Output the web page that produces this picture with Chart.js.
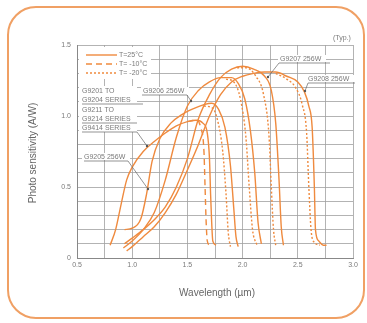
<!DOCTYPE html>
<html>
<head>
<meta charset="utf-8">
<title>Photo sensitivity</title>
<script src="https://cdn.jsdelivr.net/npm/chart.js"></script>
<style>
  body { margin: 0; background: #fff; }
  #c { display: block; }
</style>
</head>
<body>
<canvas id="c" width="367" height="323"></canvas>
<script>
// wavelength (um) / photo sensitivity (A/W)
var stdX   = [0.80, 0.85, 0.90, 0.95, 1.00, 1.10, 1.20, 1.30, 1.40, 1.50, 1.58, 1.64, 1.68, 1.70, 1.71, 1.72, 1.73, 1.76];
var stdY   = [0.09, 0.20, 0.38, 0.55, 0.64, 0.75, 0.82, 0.88, 0.93, 0.96, 0.97, 0.95, 0.88, 0.70, 0.45, 0.25, 0.12, 0.09];
var stdColdX = [1.50, 1.58, 1.62, 1.65, 1.66, 1.67, 1.68, 1.70];
var stdColdY = [0.96, 0.97, 0.92, 0.75, 0.50, 0.25, 0.12, 0.09];

var g9205X = [0.93, 1.00, 1.08, 1.13, 1.18, 1.25, 1.35, 1.45, 1.55, 1.65, 1.72, 1.78, 1.84, 1.89, 1.92, 1.94, 1.96];
var g9205Y = [0.20, 0.21, 0.28, 0.45, 0.68, 0.84, 0.95, 1.01, 1.05, 1.08, 1.09, 1.05, 0.92, 0.65, 0.35, 0.15, 0.08];
var g9205ColdX = [1.65, 1.72, 1.77, 1.82, 1.85, 1.87, 1.89];
var g9205ColdY = [1.07, 1.06, 0.98, 0.75, 0.45, 0.18, 0.08];

var g9206X = [0.92, 1.00, 1.10, 1.20, 1.30, 1.40, 1.50, 1.60, 1.70, 1.80, 1.90, 1.96, 2.02, 2.07, 2.11, 2.14, 2.17];
var g9206Y = [0.07, 0.12, 0.20, 0.32, 0.55, 0.85, 1.07, 1.18, 1.24, 1.27, 1.27, 1.23, 1.12, 0.90, 0.60, 0.25, 0.10];
var g9206ColdX = [1.85, 1.92, 1.98, 2.03, 2.06, 2.09, 2.13];
var g9206ColdY = [1.26, 1.24, 1.12, 0.85, 0.50, 0.20, 0.09];

var g9207X = [0.93, 1.00, 1.10, 1.20, 1.30, 1.40, 1.50, 1.60, 1.70, 1.80, 1.90, 2.00, 2.10, 2.20, 2.26, 2.30, 2.33, 2.35, 2.37];
var g9207Y = [0.10, 0.14, 0.20, 0.27, 0.36, 0.50, 0.70, 0.98, 1.15, 1.27, 1.33, 1.35, 1.33, 1.28, 1.18, 0.95, 0.55, 0.22, 0.09];
var g9207ColdX = [1.95, 2.03, 2.12, 2.19, 2.24, 2.26, 2.28, 2.30];
var g9207ColdY = [1.34, 1.34, 1.28, 1.15, 0.85, 0.50, 0.20, 0.09];

var g9208X = [0.95, 1.00, 1.10, 1.20, 1.30, 1.40, 1.50, 1.60, 1.70, 1.80, 1.90, 2.00, 2.10, 2.20, 2.30, 2.40, 2.50, 2.56, 2.60, 2.63, 2.65, 2.66, 2.69, 2.73, 2.76];
var g9208Y = [0.05, 0.08, 0.15, 0.22, 0.32, 0.45, 0.62, 0.80, 1.00, 1.15, 1.24, 1.28, 1.30, 1.31, 1.31, 1.28, 1.24, 1.17, 1.07, 0.92, 0.50, 0.20, 0.12, 0.09, 0.09];
var g9208ColdX = [2.30, 2.40, 2.48, 2.54, 2.58, 2.60, 2.62, 2.65, 2.70];
var g9208ColdY = [1.30, 1.26, 1.20, 1.08, 0.88, 0.50, 0.20, 0.11, 0.09];

var xTickLabels = ['0.5', '1.0', '1.5', '2.0', '2.5', '3.0'];
var yTickLabels = ['0', '0.5', '1.0', '1.5'];

var orange = '#ef8a3e';
var gray = '#7a7a7a';

function pts(xs, ys) {
  return xs.map(function (x, i) { return { x: x, y: ys[i] }; });
}

function ds(xs, ys, dash) {
  return {
    data: pts(xs, ys),
    borderColor: orange,
    borderWidth: 1.4,
    borderDash: dash,
    pointRadius: 0,
    fill: false,
    cubicInterpolationMode: 'monotone'
  };
}

var solid = [], dashed = [6, 4], dotted = [2, 2];

function txt(ctx, s, x, y) {
  ctx.fillText(s, x, y);
}

var decor = {
  id: 'decor',
  beforeDraw: function (chart) {
    var ctx = chart.ctx;
    ctx.save();
    ctx.fillStyle = '#fff';
    ctx.fillRect(0, 0, chart.width, chart.height);
    ctx.strokeStyle = '#f0a064';
    ctx.lineWidth = 2;
    ctx.beginPath();
    ctx.roundRect(8, 7, 356, 311, 28);
    ctx.stroke();
    ctx.restore();
  },
  beforeDatasetsDraw: function (chart) {
    var ctx = chart.ctx;
    ctx.save();
    ctx.fillStyle = '#fff';
    ctx.fillRect(79, 47, 72, 32);
    ctx.fillRect(79, 86, 58, 46);
    ctx.fillRect(141, 87, 48, 8);
    ctx.fillRect(278, 55, 48, 7);
    ctx.fillRect(306, 75, 48, 7);
    ctx.fillRect(82, 153, 48, 7);
    ctx.restore();
  },
  afterDraw: function (chart) {
    var ctx = chart.ctx;
    ctx.save();
    // legend
    var rows = [[55, solid, 'T=25\u00b0C'], [64, dashed, 'T= -10\u00b0C'], [73, dotted, 'T= -20\u00b0C']];
    ctx.font = '7px "Liberation Sans", Arial, sans-serif';
    ctx.textBaseline = 'middle';
    rows.forEach(function (r) {
      ctx.strokeStyle = orange;
      ctx.lineWidth = 1.4;
      ctx.setLineDash(r[1]);
      ctx.beginPath();
      ctx.moveTo(86, r[0]);
      ctx.lineTo(117, r[0]);
      ctx.stroke();
      ctx.fillStyle = gray;
      txt(ctx, r[2], 119, r[0]);
    });
    ctx.setLineDash([]);

    // labels
    ctx.fillStyle = gray;
    ctx.textAlign = 'left';
    txt(ctx, 'G9201 TO', 82, 91);
    txt(ctx, 'G9204 SERIES', 82, 100);
    txt(ctx, 'G9211 TO', 82, 110);
    txt(ctx, 'G9214 SERIES', 82, 119);
    txt(ctx, 'G9414 SERIES', 82, 128);
    txt(ctx, 'G9206 256W', 143, 91);
    txt(ctx, 'G9207 256W', 280, 59);
    txt(ctx, 'G9208 256W', 308, 79);
    txt(ctx, 'G9205 256W', 84, 157);
    ctx.font = '7px "Liberation Sans", Arial, sans-serif';
    txt(ctx, '(Typ.)', 333, 38);

    // leader lines
    ctx.strokeStyle = '#666';
    ctx.lineWidth = 0.7;
    function leader(points) {
      ctx.beginPath();
      ctx.moveTo(points[0][0], points[0][1]);
      for (var i = 1; i < points.length; i++) ctx.lineTo(points[i][0], points[i][1]);
      ctx.stroke();
      var p = points[points.length - 1];
      ctx.fillStyle = '#555';
      ctx.beginPath();
      ctx.arc(p[0], p[1], 1.2, 0, Math.PI * 2);
      ctx.fill();
    }
    ctx.beginPath();
    ctx.moveTo(82, 104); ctx.lineTo(143, 104);
    ctx.moveTo(82, 123); ctx.lineTo(137, 123);
    ctx.stroke();
    leader([[82, 132], [137, 132], [147, 146]]);
    leader([[142, 95], [187, 95], [191, 101]]);
    leader([[330, 63], [279, 63], [268, 77]]);
    leader([[355, 83], [308, 83], [305, 91]]);
    leader([[84, 161], [128, 161], [148, 189]]);

    // axis titles
    ctx.fillStyle = '#666';
    ctx.font = '10px "Liberation Sans", Arial, sans-serif';
    ctx.textAlign = 'center';
    txt(ctx, 'Wavelength (\u00b5m)', 217, 293);
    ctx.translate(33, 153);
    ctx.rotate(-Math.PI / 2);
    txt(ctx, 'Photo sensitivity (A/W)', 0, 0);
    ctx.restore();
  }
};

new Chart(document.getElementById('c'), {
  type: 'line',
  data: {
    datasets: [
      ds(stdX, stdY, solid), ds(stdColdX, stdColdY, dashed),
      ds(g9205X, g9205Y, solid), ds(g9205ColdX, g9205ColdY, dotted),
      ds(g9206X, g9206Y, solid), ds(g9206ColdX, g9206ColdY, dotted),
      ds(g9207X, g9207Y, solid), ds(g9207ColdX, g9207ColdY, dotted),
      ds(g9208X, g9208Y, solid), ds(g9208ColdX, g9208ColdY, dotted)
    ]
  },
  options: {
    responsive: false,
    animation: false,
    layout: { padding: { left: 0, top: 45, right: 14, bottom: 0 } },
    plugins: { legend: { display: false }, tooltip: { enabled: false } },
    scales: {
      x: {
        type: 'linear', min: 0.5, max: 3.0,
        afterFit: function (s) { s.height = 65; },
        afterBuildTicks: function (s) {
          var t = [];
          for (var i = 0; i <= 10; i++) t.push({ value: 0.5 + i * 0.25 });
          s.ticks = t;
        },
        ticks: {
          autoSkip: false, maxRotation: 0, padding: 3,
          color: gray, font: { size: 7, family: 'Liberation Sans' },
          callback: function (v) {
            var k = Math.round((v - 0.5) / 0.5 * 100) / 100;
            return Number.isInteger(k) ? xTickLabels[k] : '';
          }
        },
        grid: { color: '#a0a0a0', lineWidth: 0.8, tickLength: 0 },
        border: { color: '#888', width: 1 }
      },
      y: {
        min: 0, max: 1.5,
        afterFit: function (s) { s.width = 77; },
        afterBuildTicks: function (s) {
          var t = [];
          for (var i = 0; i <= 15; i++) t.push({ value: i / 10 });
          s.ticks = t;
        },
        ticks: {
          autoSkip: false, padding: 6,
          color: gray, font: { size: 7, family: 'Liberation Sans' },
          callback: function (v) {
            var k = Math.round(v * 10);
            return k % 5 === 0 ? yTickLabels[k / 5] : '';
          }
        },
        grid: { color: '#a0a0a0', lineWidth: 0.8, tickLength: 0 },
        border: { color: '#888', width: 1 }
      }
    }
  },
  plugins: [decor]
});
</script>
</body>
</html>
